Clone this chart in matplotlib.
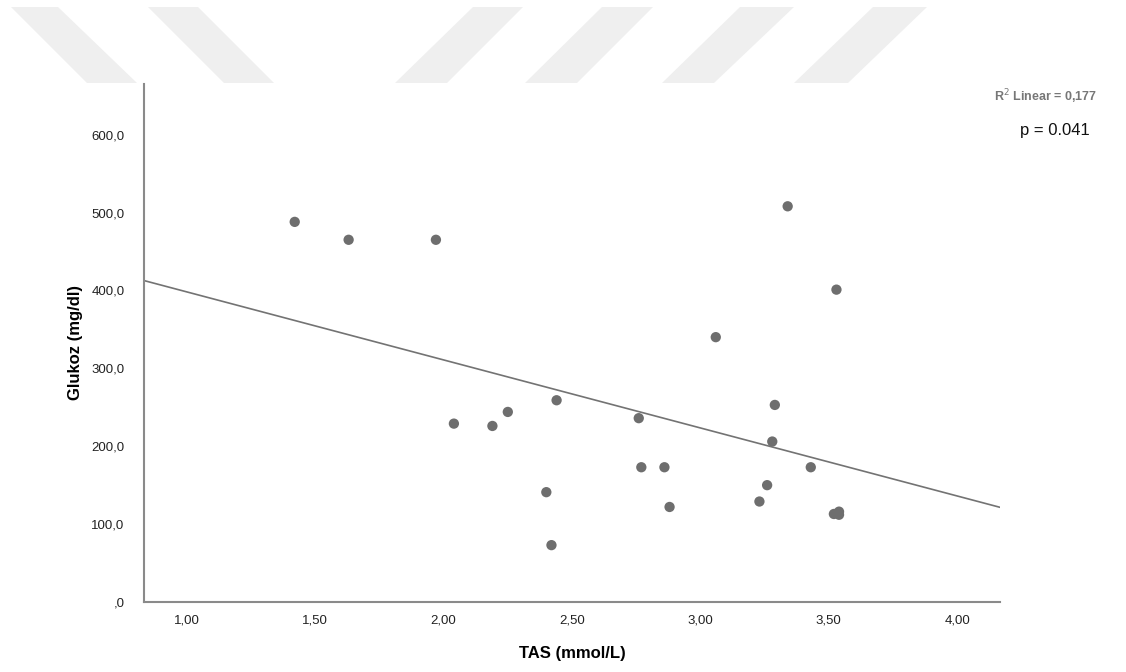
import numpy as np
import matplotlib
matplotlib.use("Agg")
import matplotlib.pyplot as plt
from matplotlib.patches import Polygon

# TAS (mmol/L) vs Glukoz (mg/dl)
tas = [1.42, 1.63, 1.97, 2.04, 2.19, 2.25, 2.40, 2.42, 2.44, 2.76, 2.77, 2.86,
       2.88, 3.06, 3.23, 3.26, 3.28, 3.29, 3.34, 3.43, 3.53, 3.52, 3.54, 3.54]
glukoz = [488, 465, 465, 229, 226, 244, 141, 73, 259, 236, 173, 173,
          122, 340, 129, 150, 206, 253, 508, 173, 401, 113, 116, 112]

x_ticks = [1.0, 1.5, 2.0, 2.5, 3.0, 3.5, 4.0]
x_labels = ["1,00", "1,50", "2,00", "2,50", "3,00", "3,50", "4,00"]
y_ticks = [0, 100, 200, 300, 400, 500, 600]
y_labels = [",0", "100,0", "200,0", "300,0", "400,0", "500,0", "600,0"]

r2_text = "R$^2$ Linear = 0,177"
p_text = "p = 0.041"

W, H = 1126, 672
fig = plt.figure(figsize=(W / 100, H / 100), dpi=100)
plt.rcParams['font.family'] = ['Liberation Sans', 'DejaVu Sans']

# light watermark stripes at the top (pixel coords: top-left, top-right, bottom-right, bottom-left)
stripes = [
    (11, 58, 137, 87), (148, 198, 274, 224),
    (473, 523, 447, 395), (602, 653, 577, 525),
    (740, 794, 714, 662), (873, 927, 848, 794),
]
for tl, tr, br, bl in stripes:
    pts = [(tl / W, 1 - 7 / H), (tr / W, 1 - 7 / H), (br / W, 1 - 83 / H), (bl / W, 1 - 83 / H)]
    fig.patches.append(Polygon(pts, closed=True, transform=fig.transFigure,
                               facecolor="#efefef", edgecolor="none", zorder=0))

ax = fig.add_axes([144 / W, 1 - 602 / H, (1000 - 144) / W, (602 - 84) / H])
ax.set_facecolor("none")

ax.scatter(tas, glukoz, s=55, color="#6e6e6e", edgecolors="none", zorder=3)

# linear fit
k, b = np.polyfit(tas, glukoz, 1)
xl = np.array([0.833, 4.167])
ax.plot(xl, k * xl + b, color="#737373", lw=1.2, zorder=2)

ax.set_xlim(0.833, 4.167)
ax.set_ylim(0, 665)
ax.set_xticks(x_ticks)
ax.set_xticklabels(x_labels)
ax.set_yticks(y_ticks)
ax.set_yticklabels(y_labels)
ax.tick_params(length=0, labelsize=9.5, colors="#222222")
ax.tick_params(axis="y", pad=14)
ax.tick_params(axis="x", pad=9)

for s in ["top", "right"]:
    ax.spines[s].set_visible(False)
for s in ["left", "bottom"]:
    ax.spines[s].set_color("#8a8a8a")
    ax.spines[s].set_linewidth(1.5)

ax.set_xlabel("TAS (mmol/L)", fontsize=12, fontweight="bold", labelpad=14)
ax.set_ylabel("Glukoz (mg/dl)", fontsize=12, fontweight="bold", labelpad=6)

fig.text(1097 / W, 1 - 97 / H, r2_text, ha="right", va="center",
         fontsize=9, fontweight="bold", color="#777777")
fig.text(1055 / W, 1 - 131 / H, p_text, ha="center", va="center",
         fontsize=12, color="#111111")

fig.savefig("out.png", dpi=100)
